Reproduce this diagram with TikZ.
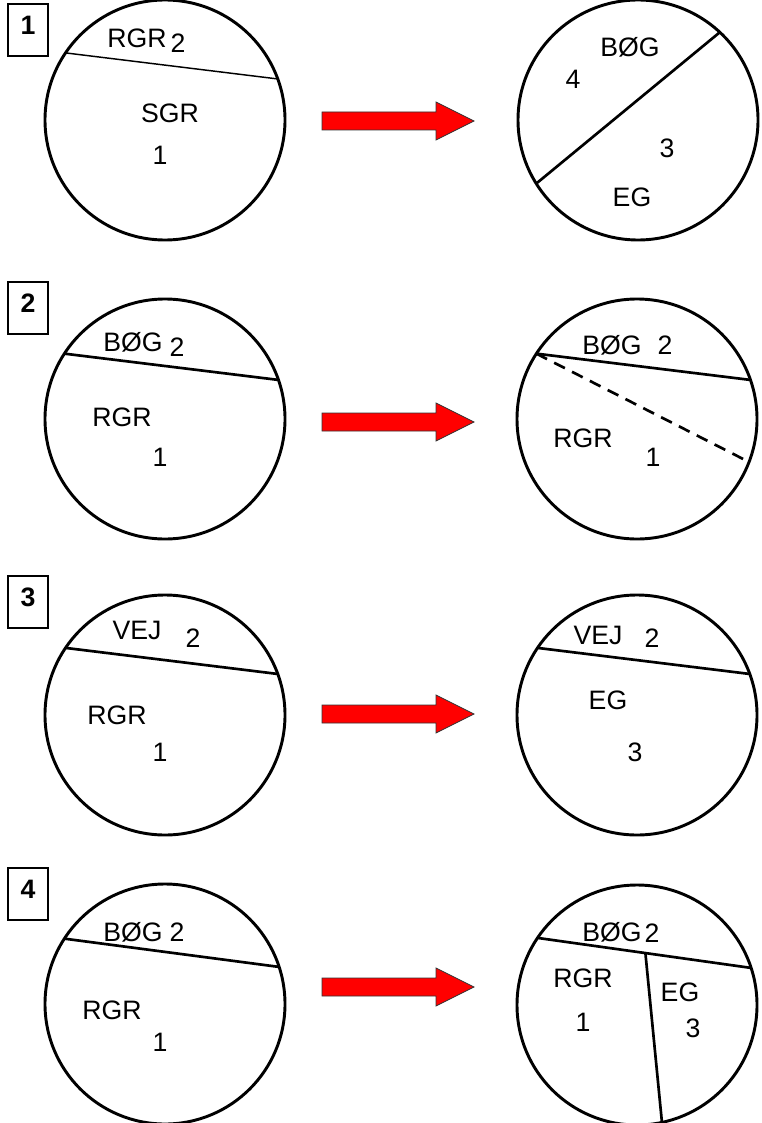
\documentclass[tikz,border=0pt]{standalone}
\usepackage{fontspec}
\setmainfont{Liberation Sans}
\usetikzlibrary{calc}
\begin{document}
\begin{tikzpicture}[x=0.75pt,y=-0.75pt,
  disc/.style={circle,draw,line width=2.2pt,minimum size=180pt,inner sep=0pt,outer sep=0pt},
  chord/.style={line width=2pt},
  thinchord/.style={line width=1.1pt},
  lbl/.style={font=\fontsize{20}{24}\selectfont,inner sep=0pt},
  numbox/.style={draw,line width=0.9pt,minimum width=30pt,minimum height=39pt,inner sep=0pt,
    font=\fontsize{20}{24}\selectfont\bfseries,text depth=7.5pt},
  redarrow/.style={fill=red,draw=black!80,line width=0.6pt,line join=miter}]
\useasboundingbox (0,0) rectangle (762,1123);

% number boxes
\node[numbox] (b1) at (28,30) {1};
\node[numbox] (b2) at (28,308) {2};
\node[numbox] (b3) at (28,602) {3};
\node[numbox] (b4) at (28,894) {4};

% red arrows
\foreach \y in {121,422,714,987}
  \draw[redarrow] (322,\y-9) -- (436,\y-9) -- (436,\y-19) -- (474,\y)
     -- (436,\y+19) -- (436,\y+9) -- (322,\y+9) -- cycle;

% ---------- panel 1 ----------
\node[disc] (c1l) at (165,120) {};
\draw[thinchord] (c1l.146.6) -- (c1l.20.3);
\node[lbl] (t1a) at (137,38) {RGR};
\node[lbl] (t1b) at (178,43) {2};
\node[lbl] (t1c) at (170,113) {SGR};
\node[lbl] (t1d) at (160,155) {1};

\node[disc] (c1r) at (638,120) {};
\draw[chord] (c1r.212.9) -- (c1r.47);
\node[lbl] (t1e) at (630,47) {BØG};
\node[lbl] (t1f) at (573,79) {4};
\node[lbl] (t1g) at (667,148) {3};
\node[lbl] (t1h) at (632,197) {EG};

% ---------- panel 2 ----------
\node[disc] (c2l) at (165,419) {};
\draw[chord] (c2l.147.4) -- (c2l.19.8);
\node[lbl] (t2a) at (133,342) {BØG};
\node[lbl] (t2b) at (177,347) {2};
\node[lbl] (t2c) at (122,417) {RGR};
\node[lbl] (t2d) at (160,457) {1};

\node[disc] (c2r) at (637,419) {};
\draw[chord] (c2r.147.5) -- (c2r.19.7);
\draw[chord,dash pattern=on 9pt off 6pt] (c2r.147.5) -- (c2r.339.9);
\node[lbl] (t2e) at (612,345) {BØG};
\node[lbl] (t2f) at (665,345) {2};
\node[lbl] (t2g) at (583,438) {RGR};
\node[lbl] (t2h) at (653,457) {1};

% ---------- panel 3 ----------
\node[disc] (c3l) at (165,715) {};
\draw[chord] (c3l.146.6) -- (c3l.20.3);
\node[lbl] (t3a) at (137,630) {VEJ};
\node[lbl] (t3b) at (193,638) {2};
\node[lbl] (t3c) at (117,715) {RGR};
\node[lbl] (t3d) at (160,752) {1};

\node[disc] (c3r) at (637,715) {};
\draw[chord] (c3r.146.3) -- (c3r.20.1);
\node[lbl] (t3e) at (598,635) {VEJ};
\node[lbl] (t3f) at (652,638) {2};
\node[lbl] (t3g) at (608,700) {EG};
\node[lbl] (t3h) at (635,752) {3};

% ---------- panel 4 ----------
\node[disc] (c4l) at (165,1004) {};
\draw[chord] (c4l.147.4) -- (c4l.18.3);
\node[lbl] (t4a) at (133,932) {BØG};
\node[lbl] (t4b) at (177,932) {2};
\node[lbl] (t4c) at (112,1010) {RGR};
\node[lbl] (t4d) at (160,1042) {1};

\node[disc] (c4r) at (637,1005) {};
\coordinate (p4a) at (c4r.146.4);
\coordinate (p4b) at (c4r.18.7);
\coordinate (p4m) at ($(p4a)!0.505!(p4b)$);
\draw[chord] (p4a) -- (p4b);
\draw[chord] (p4m) -- (c4r.282.7);
\node[lbl] (t4e) at (612,932) {BØG};
\node[lbl] (t4f) at (652,933) {2};
\node[lbl] (t4g) at (583,978) {RGR};
\node[lbl] (t4h) at (583,1022) {1};
\node[lbl] (t4i) at (680,992) {EG};
\node[lbl] (t4j) at (693,1028) {3};
\end{tikzpicture}
\end{document}
